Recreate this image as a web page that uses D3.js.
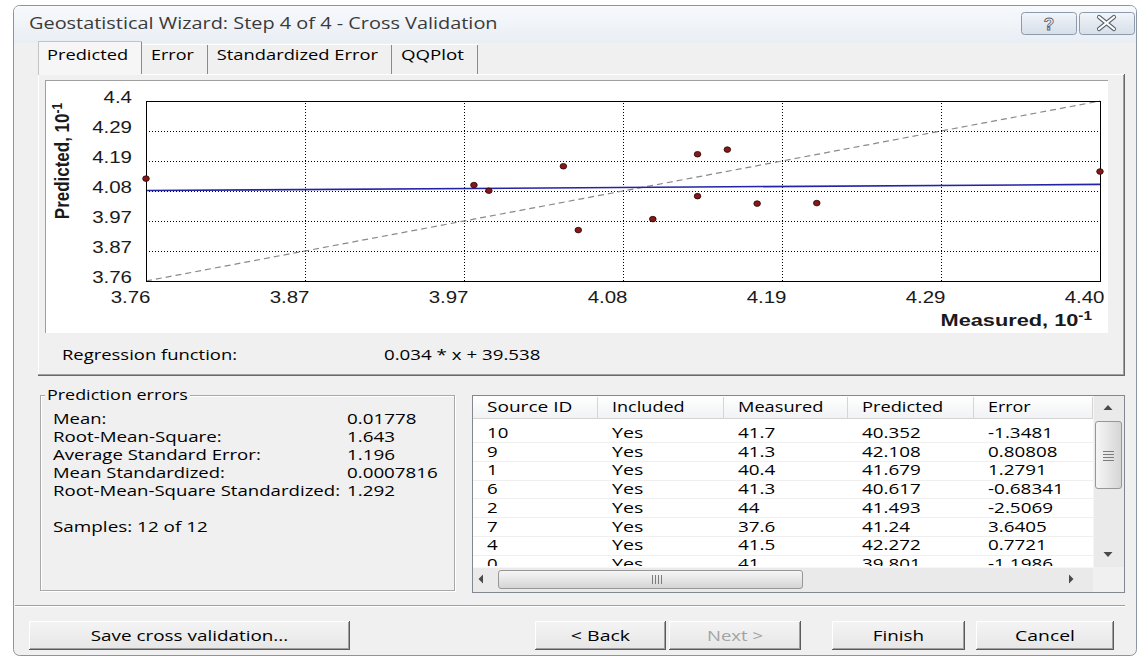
<!DOCTYPE html>
<html><head><meta charset="utf-8">
<script src="https://cdn.jsdelivr.net/npm/d3@7"></script>
<style>body{margin:0;background:#fff;overflow:hidden}svg{display:block}</style>
</head><body>
<svg id="c" width="1142" height="659"></svg>
<script>
// ---------------- data ----------------
const titleText = "Geostatistical Wizard: Step 4 of 4 - Cross Validation";
const tabNames = ["Predicted", "Error", "Standardized Error", "QQPlot"];
const axisDomain = [3.76, 4.40];
const xTickLabels = ["3.76", "3.87", "3.97", "4.08", "4.19", "4.29", "4.40"];
const yTickLabels = ["3.76", "3.87", "3.97", "4.08", "4.19", "4.29", "4.4"];
const xTitle = "Measured, 10", yTitle = "Predicted, 10", expLabel = "-1";
const sourceIds = [10, 9, 1, 6, 2, 7, 4, 0, 3, 5, 8, 11];
const included  = ["Yes","Yes","Yes","Yes","Yes","Yes","Yes","Yes","Yes","Yes","Yes","Yes"];
const measured  = [41.7, 41.3, 40.4, 41.3, 44, 37.6, 41.5, 41, 39.8, 39.9, 40.5, 42.1];
const predicted = [40.352, 42.108, 41.679, 40.617, 41.493, 41.24, 42.272, 39.801, 41.01, 40.81, 39.41, 40.37];
const errors    = [-1.3481, 0.80808, 1.2791, -0.68341, -2.5069, 3.6405, 0.7721, -1.1986, 1.21, 0.91, -1.09, -1.73];
const tableColumns = ["Source ID", "Included", "Measured", "Predicted", "Error"];
const regSlope = 0.034, regIntercept = 39.538;
const statLabels = ["Mean:", "Root-Mean-Square:", "Average Standard Error:", "Mean Standardized:", "Root-Mean-Square Standardized:"];
const statValues = ["0.01778", "1.643", "1.196", "0.0007816", "1.292"];
const samplesText = "Samples: 12 of 12";
const buttonLabels = ["Save cross validation...", "< Back", "Next >", "Finish", "Cancel"];

// ---------------- helpers ----------------
const S = 1.28;
const UI = '"Open Sans","Noto Sans",sans-serif';
const AR = '"Liberation Sans",Arial,sans-serif';
const svg = d3.select('#c');
const meas = svg.append('text').attr('visibility','hidden');
function arialW(str, fs, bold){
  meas.attr('font-family', AR).attr('font-size', fs).attr('font-weight', bold?'bold':'normal').text(str);
  return meas.node().getComputedTextLength();
}
function T(g, x, y, str, o = {}){
  const fs = o.fs || 15;
  const w = o.w || arialW(str, fs, o.bold) * (o.s || S);
  let x0 = x;
  if (o.anchor === 'middle') x0 = x - w / 2;
  else if (o.anchor === 'end') x0 = x - w;
  const t = g.append('text').attr('x', x0).attr('y', y)
    .attr('font-family', o.ff || UI).attr('font-size', o.draw || (fs - 0.5))
    .attr('font-weight', o.bold ? 'bold' : 'normal')
    .attr('fill', o.fill || '#000').text(str);
  t.attr('textLength', w).attr('lengthAdjust', 'spacingAndGlyphs');
  return t;
}
function stretchSel(sel, fs, bold){
  sel.each(function(){
    const w = arialW(this.textContent, fs, bold) * S;
    this.setAttribute('textLength', w); this.setAttribute('lengthAdjust', 'spacingAndGlyphs');
  });
}
function hline(g, x1, x2, y, c){ g.append('line').attr('x1',x1).attr('x2',x2).attr('y1',y).attr('y2',y).attr('stroke',c).attr('shape-rendering','crispEdges'); }
function vline(g, x, y1, y2, c){ g.append('line').attr('x1',x).attr('x2',x).attr('y1',y1).attr('y2',y2).attr('stroke',c).attr('shape-rendering','crispEdges'); }

// ---------------- defs ----------------
const defs = svg.append('defs');
function grad(id, stops, horiz){
  const g = defs.append('linearGradient').attr('id', id).attr('x1',0).attr('y1',0).attr('x2',horiz?1:0).attr('y2',horiz?0:1);
  stops.forEach(s => g.append('stop').attr('offset', s[0]).attr('stop-color', s[1]));
}
grad('titleG', [[0,'#f7f9fc'],[1,'#e9eef4']]);
grad('capBtn', [[0,'#f3f6fa'],[0.5,'#e3e9f1'],[1,'#d7dfe9']]);
grad('hdrG', [[0,'#ffffff'],[1,'#f1f2f4']]);
grad('thumbV', [[0,'#f6f6f6'],[0.5,'#e6e6e6'],[1,'#d4d4d4']], true);
grad('thumbH', [[0,'#f6f6f6'],[0.5,'#e6e6e6'],[1,'#d4d4d4']]);
grad('btnG', [[0,'#f4f4f4'],[1,'#e6e6e6']]);
defs.append('clipPath').attr('id','rowsClip').append('rect').attr('x',473).attr('y',419).attr('width',620).attr('height',147);

// ---------------- window ----------------
const win = svg.append('g');
win.append('rect').attr('x',13.5).attr('y',5.5).attr('width',1123).attr('height',650).attr('rx',6)
  .attr('fill','#f0f0f0').attr('stroke','#8a95a2');
win.append('path').attr('d','M14,43 L14,12 Q14,6 20,6 L1130,6 Q1136,6 1136,12 L1136,43 Z').attr('fill','url(#titleG)');
T(win, 29, 29, titleText, {fs:16, fill:'#3a3a3a'});
// caption buttons
win.append('rect').attr('x',1021.5).attr('y',12.5).attr('width',55).attr('height',22).attr('rx',3).attr('fill','url(#capBtn)').attr('stroke','#8d9aab');
win.append('rect').attr('x',1079.5).attr('y',12.5).attr('width',55).attr('height',22).attr('rx',3).attr('fill','url(#capBtn)').attr('stroke','#8d9aab');
win.append('text').attr('x',1049).attr('y',30).attr('text-anchor','middle').attr('font-family',AR).attr('font-weight','bold')
  .attr('font-size',17).attr('fill','#ffffff').attr('stroke','#5a6470').attr('stroke-width',0.9).text('?');
const xg = win.append('g');
const xSeg = [[1099,17,1114,29],[1114,17,1099,29]];
xSeg.forEach(p => xg.append('line').attr('x1',p[0]).attr('y1',p[1]).attr('x2',p[2]).attr('y2',p[3]).attr('stroke','#5a6470').attr('stroke-width',4.2).attr('stroke-linecap','round'));
xSeg.forEach(p => xg.append('line').attr('x1',p[0]).attr('y1',p[1]).attr('x2',p[2]).attr('y2',p[3]).attr('stroke','#ffffff').attr('stroke-width',2.2).attr('stroke-linecap','round'));

// ---------------- tabs ----------------
const tabs = svg.append('g');
let tx = 38;
let firstTabEnd = 0;
tabNames.forEach((name, i) => {
  const w = arialW(name, 15) * S + 23;
  if (i === 0) {
    tabs.append('rect').attr('x', tx).attr('y', 41).attr('width', w).attr('height', 34).attr('fill', '#f6f6f6');
    vline(tabs, tx + 0.5, 42, 75, '#c4c4c4');
    hline(tabs, tx, tx + w, 41.5, '#c4c4c4');
    firstTabEnd = tx + w;
  } else {
    hline(tabs, tx, tx + w, 44.5, '#ffffff');
  }
  vline(tabs, tx + w - 0.5, i === 0 ? 42 : 45, 74, '#8a8a8a');
  T(tabs, tx + 9, 60, name, {fs:15});
  tx += w;
});
// tab page border (3D)
hline(tabs, firstTabEnd, 1125, 74.5, '#ffffff');
vline(tabs, 38.5, 75, 376, '#ffffff');
vline(tabs, 1123.5, 75, 375, '#a0a0a0');
vline(tabs, 1124.5, 74, 376, '#696969');
hline(tabs, 38, 1124, 374.5, '#a0a0a0');
hline(tabs, 38, 1125, 375.5, '#696969');

// ---------------- chart panel ----------------
const panel = svg.append('g');
panel.append('rect').attr('x',45).attr('y',80).attr('width',1063).attr('height',253).attr('fill','#ffffff');
vline(panel, 45.5, 80, 333, '#a0a0a0');
hline(panel, 45, 1108, 80.5, '#a0a0a0');

const x = d3.scaleLinear().domain(axisDomain).range([146, 1100]);
const y = d3.scaleLinear().domain(axisDomain).range([281, 101]);
const n = xTickLabels.length - 1;
const tickVals = d3.range(n + 1).map(i => axisDomain[0] + i * (axisDomain[1] - axisDomain[0]) / n);
const plot = panel.append('g');

// gridlines via axes
const gridX = plot.append('g').attr('transform', `translate(0,${y.range()[0]})`)
  .call(d3.axisBottom(x).tickValues(tickVals.slice(1, -1)).tickSize(-(y.range()[0] - y.range()[1])).tickFormat(''));
const gridY = plot.append('g').attr('transform', `translate(${x.range()[0]},0)`)
  .call(d3.axisLeft(y).tickValues(tickVals.slice(1, -1)).tickSize(-(x.range()[1] - x.range()[0])).tickFormat(''));
[gridX, gridY].forEach(g => { g.select('.domain').remove(); g.selectAll('line').attr('stroke','#000').attr('stroke-dasharray','1.2,1.8').attr('shape-rendering','crispEdges'); });

// reference 1:1 line
plot.append('line').attr('x1', x(axisDomain[0])).attr('y1', y(axisDomain[0])).attr('x2', x(axisDomain[1])).attr('y2', y(axisDomain[1]))
  .attr('stroke', '#8a8a8a').attr('stroke-width', 1.2).attr('stroke-dasharray', '6,4');
// regression line
const regX = d3.extent(measured);
plot.append('line').attr('x1', x(regX[0] / 10)).attr('y1', y((regSlope * regX[0] + regIntercept) / 10))
  .attr('x2', x(regX[1] / 10)).attr('y2', y((regSlope * regX[1] + regIntercept) / 10))
  .attr('stroke', '#2323a8').attr('stroke-width', 1.6);
// frame
plot.append('rect').attr('x', x.range()[0] + 0.5).attr('y', y.range()[1] + 0.5)
  .attr('width', x.range()[1] - x.range()[0]).attr('height', y.range()[0] - y.range()[1])
  .attr('fill', 'none').attr('stroke', '#000').attr('shape-rendering', 'crispEdges');
// points
plot.selectAll('ellipse.pt').data(measured.map((m, i) => [m / 10, predicted[i] / 10])).enter().append('ellipse')
  .attr('class', 'pt').attr('cx', d => x(d[0])).attr('cy', d => y(d[1])).attr('rx', 3.3).attr('ry', 2.8)
  .attr('fill', '#861818').attr('stroke', '#2a0404').attr('stroke-width', 0.8);

// tick labels via axes
const axX = plot.append('g').attr('transform', `translate(0,${y.range()[0]})`)
  .call(d3.axisBottom(x).tickValues(tickVals).tickFormat((d, i) => xTickLabels[i]).tickSize(0));
axX.select('.domain').remove();
axX.selectAll('text').attr('font-family', AR).attr('font-size', 16).attr('fill', '#1a1a1a')
  .attr('text-anchor', 'end').attr('x', 4).attr('y', 22).attr('dy', null);
stretchSel(axX.selectAll('text'), 16, false);
const axY = plot.append('g').attr('transform', `translate(${x.range()[0]},0)`)
  .call(d3.axisLeft(y).tickValues(tickVals).tickFormat((d, i) => yTickLabels[i]).tickSize(0));
axY.select('.domain').remove();
axY.selectAll('text').attr('font-family', AR).attr('font-size', 16).attr('fill', '#1a1a1a')
  .attr('text-anchor', 'end').attr('x', -14).attr('y', 1).attr('dy', null);
stretchSel(axY.selectAll('text'), 16, false);

// axis titles
const xt = panel.append('text').attr('transform', `translate(1092,326) scale(${S},1)`)
  .attr('text-anchor', 'end').attr('font-family', AR).attr('font-weight', 'bold').attr('font-size', 17).attr('fill', '#1a1a1a');
xt.append('tspan').text(xTitle);
xt.append('tspan').attr('font-size', 12).attr('dy', -6).text(expLabel);
const yt = panel.append('text').attr('transform', 'translate(69,161) scale(1.15,1) rotate(-90)')
  .attr('text-anchor', 'middle').attr('font-family', AR).attr('font-weight', 'bold').attr('font-size', 17).attr('fill', '#1a1a1a');
yt.append('tspan').text(yTitle);
yt.append('tspan').attr('font-size', 12).attr('dy', -6).text(expLabel);

// regression function text
T(svg, 62, 360, 'Regression function:');
T(svg, 384, 360, `${regSlope} * x + ${regIntercept}`);

// ---------------- prediction errors group ----------------
const grp = svg.append('g');
grp.append('rect').attr('x', 41.5).attr('y', 396.5).attr('width', 414).attr('height', 195).attr('fill', 'none').attr('stroke', '#ffffff');
grp.append('rect').attr('x', 40.5).attr('y', 395.5).attr('width', 414).attr('height', 195).attr('fill', 'none').attr('stroke', '#a8a8a8');
const glw = arialW('Prediction errors', 15) * S;
grp.append('rect').attr('x', 45).attr('y', 388).attr('width', glw + 4).attr('height', 14).attr('fill', '#f0f0f0');
T(grp, 47, 400, 'Prediction errors');
statLabels.forEach((s, i) => {
  T(grp, 53, 424 + i * 18, s);
  T(grp, 347, 424 + i * 18, statValues[i]);
});
T(grp, 53, 532, samplesText);

// ---------------- table ----------------
const tbl = svg.append('g');
tbl.append('rect').attr('x', 472.5).attr('y', 395.5).attr('width', 652).attr('height', 197).attr('fill', '#ffffff').attr('stroke', '#828790');
const colX = [473, 598, 724, 848, 974];
tbl.append('rect').attr('x', 473).attr('y', 396).attr('width', 620).attr('height', 22).attr('fill', 'url(#hdrG)');
hline(tbl, 473, 1093, 418.5, '#d5d5d5');
colX.slice(1).forEach(c => vline(tbl, c - 0.5, 397, 418, '#d5d5d5'));
vline(tbl, 1092.5, 397, 418, '#d5d5d5');
tableColumns.forEach((c, i) => T(tbl, colX[i] + 14, 412, c));
const rows = tbl.append('g').attr('clip-path', 'url(#rowsClip)');
const rowH = 18.7;
sourceIds.forEach((id, r) => {
  const yc = 433 + r * rowH;
  hline(rows, 473, 1093, Math.round(yc + rowH / 2) + 0.5, '#efefef');
  const vals = [String(id), included[r], String(measured[r]), String(predicted[r]), String(errors[r])];
  vals.forEach((v, i) => T(rows, colX[i] + 14, yc + 5, v));
});
// vertical scrollbar
const vs = tbl.append('g');
vs.append('rect').attr('x', 1093).attr('y', 396).attr('width', 31).attr('height', 171).attr('fill', '#eaeaea');
vline(vs, 1093.5, 396, 567, '#f5f5f5');
vs.append('path').attr('d', 'M1103.5,410 L1112.5,410 L1108,405 Z').attr('fill', '#4a4a4a');
vs.append('rect').attr('x', 1095.5).attr('y', 421.5).attr('width', 26).attr('height', 67).attr('rx', 2.5)
  .attr('fill', 'url(#thumbV)').attr('stroke', '#979797');
[451, 454, 457, 460].forEach(yy => hline(vs, 1103, 1114, yy + 0.5, '#7c7c7c'));
vs.append('path').attr('d', 'M1103.5,552 L1112.5,552 L1108,557 Z').attr('fill', '#4a4a4a');
// horizontal scrollbar
const hs = tbl.append('g');
hs.append('rect').attr('x', 473).attr('y', 567).attr('width', 620).attr('height', 25).attr('fill', '#eaeaea');
hline(hs, 473, 1093, 567.5, '#f7f7f7');
hs.append('path').attr('d', 'M483,574.5 L483,583.5 L478.5,579 Z').attr('fill', '#4a4a4a');
hs.append('rect').attr('x', 498.5).attr('y', 570.5).attr('width', 304).attr('height', 18).attr('rx', 2.5)
  .attr('fill', 'url(#thumbH)').attr('stroke', '#979797');
[652, 655, 658, 661].forEach(xx => vline(hs, xx + 0.5, 575, 584, '#7c7c7c'));
hs.append('path').attr('d', 'M1069,574.5 L1069,583.5 L1073.5,579 Z').attr('fill', '#4a4a4a');
hs.append('rect').attr('x', 1093).attr('y', 567).attr('width', 31).attr('height', 25).attr('fill', '#f0f0f0');

// ---------------- bottom ----------------
const bot = svg.append('g');
hline(bot, 15, 1125, 605.5, '#a0a0a0');
hline(bot, 15, 1125, 606.5, '#ffffff');
const btnX = [[29, 350], [535, 666], [669, 801], [832, 965], [976, 1114]];
buttonLabels.forEach((b, i) => {
  const [x0, x1] = btnX[i];
  const g = bot.append('g');
  g.append('rect').attr('x', x0).attr('y', 621).attr('width', x1 - x0).attr('height', 29).attr('fill', 'url(#btnG)');
  hline(g, x0, x1 - 1, 621.5, '#ffffff'); vline(g, x0 + 0.5, 621, 649, '#ffffff');
  hline(g, x0 + 1, x1 - 1, 648.5, '#a0a0a0'); vline(g, x1 - 1.5, 622, 649, '#a0a0a0');
  hline(g, x0, x1, 649.5, '#5a5a5a'); vline(g, x1 - 0.5, 621, 650, '#5a5a5a');
});
buttonLabels.forEach((b, i) => {
  const [x0, x1] = btnX[i];
  T(bot, (x0 + x1) / 2, 641, b, {anchor: 'middle', fill: i === 2 ? '#a3a3a3' : '#000'});
});
meas.remove();
</script>
</body></html>
